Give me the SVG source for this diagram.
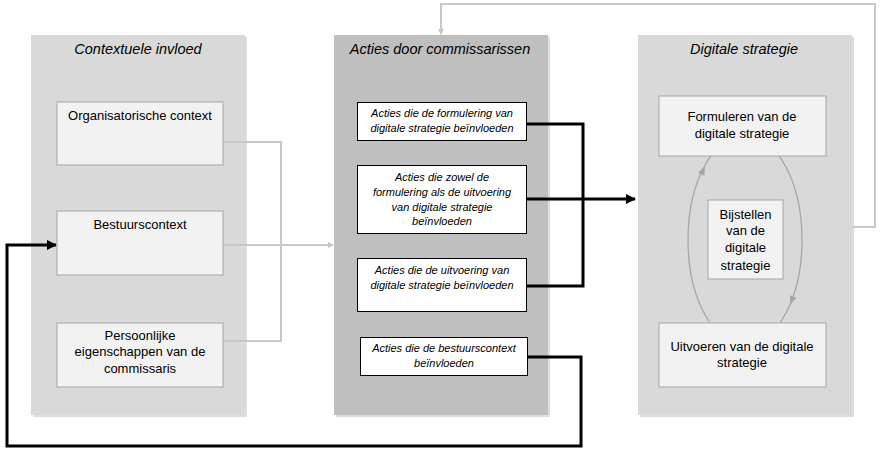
<svg xmlns="http://www.w3.org/2000/svg" width="882" height="455" viewBox="0 0 882 455">
<style>
.panel{stroke:none}
.shadow{fill:#c8c8c8;opacity:0.6}
.box{fill:#f2f2f2;stroke:#a6a6a6;stroke-width:1}
.wbox{fill:#ffffff;stroke:#000000;stroke-width:1}
.title{font-family:"Liberation Sans",Arial,sans-serif;font-style:italic;font-size:14.5px;fill:#000;text-anchor:middle}
.t{font-family:"Liberation Sans",Arial,sans-serif;font-size:13px;fill:#000;text-anchor:middle}
.s{font-family:"Liberation Sans",Arial,sans-serif;font-style:italic;font-size:11px;fill:#000;text-anchor:middle}
.grey{fill:none;stroke:#c8c8c8;stroke-width:2}
.black{fill:none;stroke:#000;stroke-width:3}
.cyc{fill:none;stroke:#a6a6a6;stroke-width:1.3}
.cyca{fill:#a6a6a6}
</style>
<defs>
<marker id="ag" markerWidth="6" markerHeight="6" refX="5" refY="3" orient="auto" markerUnits="userSpaceOnUse"><path d="M0,0 L6,3 L0,6 Z" fill="#c8c8c8"/></marker>
<marker id="ab" markerWidth="10" markerHeight="10" refX="9" refY="5" orient="auto" markerUnits="userSpaceOnUse"><path d="M0,0 L10,5 L0,10 Z" fill="#000"/></marker>
</defs>

<g id="panel-contextuele">
<rect class="shadow" x="33" y="37" width="214" height="380"/>
<rect class="panel" x="31" y="35" width="214" height="380" fill="#d9d9d9"/>
<text class="title" x="138" y="54">Contextuele invloed</text>
</g>
<g id="panel-acties">
<rect class="shadow" x="336" y="37" width="214" height="380"/>
<rect class="panel" x="334" y="35" width="214" height="380" fill="#bfbfbf"/>
<text class="title" x="440" y="54">Acties door commissarissen</text>
</g>
<g id="panel-digitale">
<rect class="shadow" x="640" y="37" width="214" height="380"/>
<rect class="panel" x="638" y="35" width="214" height="380" fill="#d9d9d9"/>
<text class="title" x="744" y="54">Digitale strategie</text>
</g>

<g id="connectors">
<path class="grey" d="M223,142 H281 V341 H223"/>
<path class="grey" d="M223,245 H333" marker-end="url(#ag)"/>
<path class="grey" d="M852,227 H875 V4 H441 V34" marker-end="url(#ag)"/>
<path class="black" d="M527,124 H583 V286 H527"/>
<path class="black" d="M527,199 H635" marker-end="url(#ab)"/>
<path class="black" d="M528,357 H581 V446 H7 V245 H56" marker-end="url(#ab)"/>
<ellipse class="cyc" cx="745" cy="240" rx="57" ry="105"/>
<path class="cyca" d="M0,0 L-9,-3.5 L-9,3.5 Z" transform="translate(705,166) rotate(-65)"/>
<path class="cyca" d="M0,0 L-9,-3.5 L-9,3.5 Z" transform="translate(790,305) rotate(111)"/>
</g>

<g id="organisatorische-context">
<rect class="box" x="57" y="102" width="166" height="63"/>
<text class="t" x="140" y="119.5">Organisatorische context</text>
</g>
<g id="bestuurscontext">
<rect class="box" x="57" y="211" width="166" height="64"/>
<text class="t" x="140" y="228.5">Bestuurscontext</text>
</g>
<g id="persoonlijke-eigenschappen">
<rect class="box" x="57" y="323" width="166" height="64"/>
<text class="t" x="140" y="339.5">Persoonlijke</text>
<text class="t" x="140" y="356">eigenschappen van de</text>
<text class="t" x="140" y="373">commissaris</text>
</g>

<g id="acties-formulering">
<rect class="wbox" x="357.5" y="102.5" width="169" height="38"/>
<text class="s" x="442" y="117">Acties die de formulering van</text>
<text class="s" x="442" y="132">digitale strategie beïnvloeden</text>
</g>
<g id="acties-beide">
<rect class="wbox" x="357.5" y="165.5" width="169" height="68"/>
<text class="s" x="442" y="181">Acties die zowel de</text>
<text class="s" x="442" y="196">formulering als de uitvoering</text>
<text class="s" x="442" y="211">van digitale strategie</text>
<text class="s" x="442" y="225">beïnvloeden</text>
</g>
<g id="acties-uitvoering">
<rect class="wbox" x="357.5" y="258.5" width="169" height="53"/>
<text class="s" x="442" y="274">Acties die de uitvoering van</text>
<text class="s" x="442" y="289">digitale strategie beïnvloeden</text>
</g>
<g id="acties-bestuurscontext">
<rect class="wbox" x="360.5" y="337.5" width="167" height="38"/>
<text class="s" x="444" y="352">Acties die de bestuurscontext</text>
<text class="s" x="444" y="367">beïnvloeden</text>
</g>

<g id="formuleren">
<rect class="box" x="659" y="96" width="167" height="60"/>
<text class="t" x="742" y="121">Formuleren van de</text>
<text class="t" x="742" y="138">digitale strategie</text>
</g>
<g id="bijstellen">
<rect class="box" x="708" y="200" width="75" height="79"/>
<text class="t" x="745.5" y="219">Bijstellen</text>
<text class="t" x="745.5" y="235">van de</text>
<text class="t" x="745.5" y="252">digitale</text>
<text class="t" x="745.5" y="270">strategie</text>
</g>
<g id="uitvoeren">
<rect class="box" x="659" y="323" width="167" height="64"/>
<text class="t" x="742" y="351">Uitvoeren van de digitale</text>
<text class="t" x="742" y="367">strategie</text>
</g>
</svg>
